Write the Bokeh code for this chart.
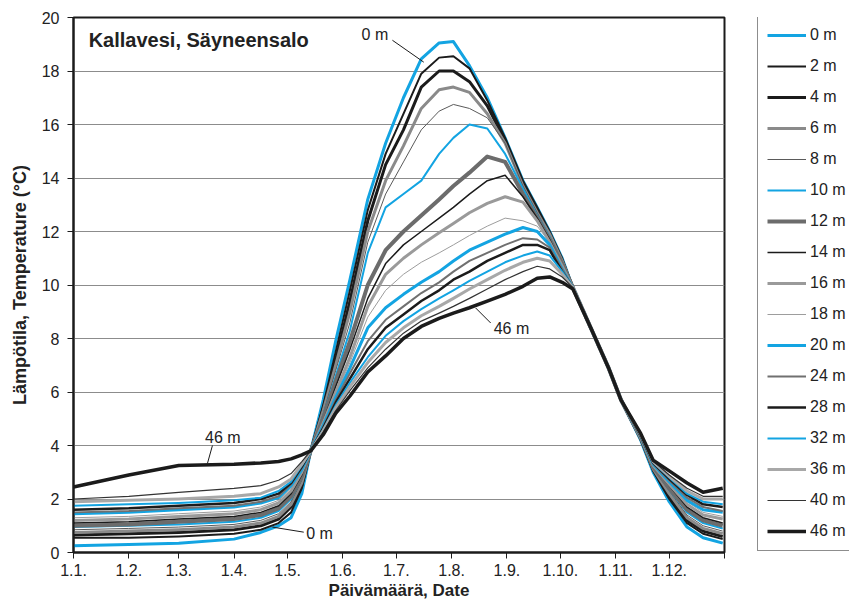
from bokeh.plotting import figure
from bokeh.layouts import row
from bokeh.models import FixedTicker, Legend, LegendItem, Label, Range1d
from bokeh.embed import file_html
from bokeh.resources import INLINE

# ---------------- data ----------------
DAYS = [0, 31, 59, 90, 105, 115, 122, 128, 133,
        140, 147, 155, 165, 175, 185, 195, 205, 213, 222, 232, 242, 252, 260, 267, 274, 280,
        290, 300, 307, 318, 325, 334, 344, 353, 364]

T0  = [0.25,0.3,0.35,0.5,0.75,1.0,1.3,2.2,3.8, 5.7,7.9,10.2,13.2,15.3,17.0,18.45,19.05,19.1,18.2,17.0,15.5,13.9,12.9,12.0,11.0,9.9, 8.4,6.9,5.7,4.2,3.0,1.9,0.95,0.55,0.35]
T2  = [0.55,0.55,0.6,0.7,0.85,1.1,1.5,2.4,3.8, 5.5,7.5,9.8,12.8,14.9,16.4,17.9,18.5,18.55,18.1,16.9,15.5,13.9,12.9,12.0,11.0,9.9, 8.4,6.9,5.7,4.25,3.05,2.0,1.1,0.7,0.5]
T4  = [0.65,0.7,0.75,0.85,1.0,1.25,1.7,2.5,3.8, 5.4,7.2,9.4,12.4,14.5,15.8,17.4,18.0,18.0,17.6,16.7,15.4,13.8,12.8,11.9,10.9,9.9, 8.4,6.9,5.7,4.25,3.1,2.1,1.2,0.8,0.6]
T6  = [0.75,0.8,0.85,0.95,1.1,1.35,1.8,2.6,3.8, 5.3,7.0,9.0,12.0,13.9,15.2,16.6,17.3,17.4,17.2,16.4,15.3,13.7,12.7,11.9,10.9,9.9, 8.4,6.9,5.7,4.3,3.12,2.2,1.3,0.9,0.7]
T8  = [0.85,0.9,0.95,1.05,1.2,1.45,1.9,2.7,3.8, 5.2,6.8,8.6,11.6,13.4,14.6,15.8,16.5,16.75,16.6,16.25,15.3,13.7,12.7,11.8,10.8,9.9, 8.4,6.9,5.7,4.3,3.15,2.3,1.4,1.0,0.8]
T10 = [0.95,1.0,1.05,1.15,1.3,1.55,2.0,2.8,3.8, 5.1,6.6,8.3,11.2,12.9,13.4,13.9,14.9,15.5,16.0,15.85,14.9,13.6,12.6,11.8,10.8,9.9, 8.4,6.9,5.7,4.3,3.18,2.35,1.5,1.1,0.9]
T12 = [1.0,1.05,1.15,1.25,1.4,1.65,2.1,2.85,3.8, 5.0,6.4,7.9,10.0,11.3,12.0,12.6,13.2,13.7,14.2,14.8,14.6,13.4,12.5,11.7,10.8,9.9, 8.4,6.9,5.7,4.3,3.2,2.4,1.6,1.2,1.0]
T14 = [1.1,1.15,1.25,1.35,1.5,1.75,2.2,2.9,3.8, 4.9,6.2,7.6,9.5,10.8,11.5,12.0,12.5,12.9,13.4,13.9,14.1,13.3,12.5,11.7,10.7,9.9, 8.4,6.9,5.7,4.3,3.22,2.5,1.7,1.3,1.1]
T16 = [1.2,1.25,1.35,1.45,1.6,1.85,2.3,3.0,3.8, 4.85,6.0,7.3,9.2,10.4,11.0,11.5,11.95,12.3,12.7,13.05,13.3,13.1,12.4,11.6,10.7,9.9, 8.4,6.9,5.7,4.3,3.25,2.55,1.8,1.4,1.25]
T18 = [1.3,1.35,1.45,1.55,1.7,1.95,2.4,3.05,3.8, 4.8,5.9,7.1,8.8,9.8,10.4,10.85,11.2,11.5,11.85,12.2,12.5,12.4,12.2,11.6,10.7,9.9, 8.4,6.9,5.7,4.35,3.27,2.6,1.9,1.5,1.35]
T20 = [1.45,1.5,1.6,1.7,1.85,2.05,2.5,3.1,3.8, 4.75,5.8,6.9,8.4,9.15,9.65,10.1,10.5,10.9,11.3,11.6,11.9,12.15,12.0,11.5,10.6,9.9, 8.4,6.9,5.7,4.35,3.3,2.65,1.95,1.6,1.5]
T24 = [1.5,1.55,1.65,1.75,1.9,2.1,2.55,3.15,3.8, 4.7,5.7,6.7,7.9,8.7,9.2,9.7,10.1,10.5,10.9,11.2,11.5,11.75,11.7,11.4,10.6,9.9, 8.4,6.9,5.7,4.35,3.32,2.7,2.05,1.7,1.55]
T28 = [1.6,1.65,1.75,1.85,2.0,2.2,2.6,3.2,3.8, 4.65,5.6,6.5,7.6,8.4,8.9,9.4,9.8,10.2,10.5,10.9,11.2,11.5,11.5,11.3,10.5,9.9, 8.4,6.9,5.7,4.35,3.35,2.75,2.15,1.8,1.7]
T32 = [1.75,1.8,1.85,1.95,2.05,2.3,2.65,3.25,3.8, 4.6,5.5,6.35,7.3,8.1,8.65,9.1,9.5,9.8,10.15,10.5,10.85,11.1,11.25,11.1,10.5,9.9, 8.4,6.9,5.7,4.4,3.37,2.8,2.2,1.9,1.8]
T36 = [1.9,1.95,2.0,2.1,2.2,2.45,2.75,3.3,3.8, 4.55,5.4,6.2,7.1,7.85,8.4,8.85,9.2,9.5,9.85,10.2,10.55,10.85,11.0,10.9,10.4,9.9, 8.4,6.9,5.7,4.4,3.4,2.85,2.3,2.0,2.0]
T40 = [2.0,2.1,2.25,2.4,2.5,2.7,2.95,3.4,3.8, 4.5,5.3,6.05,6.9,7.6,8.2,8.65,8.95,9.2,9.5,9.85,10.2,10.5,10.7,10.6,10.3,9.9, 8.4,6.9,5.7,4.4,3.42,2.9,2.4,2.1,2.1]
T46 = [2.45,2.9,3.25,3.3,3.35,3.4,3.5,3.65,3.8, 4.4,5.2,5.85,6.75,7.35,8.0,8.45,8.75,8.95,9.15,9.4,9.65,9.95,10.25,10.3,10.1,9.85, 8.4,6.9,5.7,4.45,3.45,3.05,2.6,2.25,2.4]

DEPTH_LABELS = ["0 m", "2 m", "4 m", "6 m", "8 m", "10 m", "12 m", "14 m", "16 m",
                "18 m", "20 m", "24 m", "28 m", "32 m", "36 m", "40 m", "46 m"]
SERIES = [T0, T2, T4, T6, T8, T10, T12, T14, T16, T18, T20, T24, T28, T32, T36, T40, T46]

MONTH_START_DAYS = [0, 31, 59, 90, 120, 151, 181, 212, 243, 273, 304, 334]
MONTH_LABELS = ["1.1.", "1.2.", "1.3.", "1.4.", "1.5.", "1.6.", "1.7.", "1.8.",
                "1.9.", "1.10.", "1.11.", "1.12."]
Y_TICKS = [0, 2, 4, 6, 8, 10, 12, 14, 16, 18, 20]

# ---------------- styles ----------------
BLUE = "#13a4e2"
BLACK = "#1b1b1b"
STYLES = [
    (BLUE, 3.0), (BLACK, 2.0), (BLACK, 3.0), ("#8a8a8a", 3.0), ("#5a5a5a", 1.0),
    (BLUE, 2.0), ("#6c6c6c", 4.0), (BLACK, 1.5), ("#9a9a9a", 3.0), ("#9d9d9d", 1.0),
    (BLUE, 3.0), ("#707070", 2.0), (BLACK, 2.5), (BLUE, 2.0), ("#a8a8a8", 3.0),
    ("#333333", 1.2), (BLACK, 3.5),
]
FONT = "Liberation Sans"

p = figure(width=740, height=604, output_backend="svg", toolbar_location=None,
           x_range=Range1d(0, 365), y_range=Range1d(0, 20),
           min_border_left=73, min_border_right=16, min_border_top=17, min_border_bottom=52)
p.background_fill_color = "white"
p.border_fill_color = "white"
p.outline_line_color = BLACK
p.outline_line_width = 2

# grid
p.xgrid.grid_line_color = None
p.ygrid.ticker = FixedTicker(ticks=Y_TICKS)
p.ygrid.grid_line_color = "#8c8c8c"
p.ygrid.grid_line_width = 1

# axes
p.xaxis.ticker = FixedTicker(ticks=MONTH_START_DAYS + [365])
p.xaxis.major_label_overrides = {d: lab for d, lab in zip(MONTH_START_DAYS, MONTH_LABELS)} | {365: ""}
p.yaxis.ticker = FixedTicker(ticks=Y_TICKS)
for ax in (p.xaxis[0], p.yaxis[0]):
    ax.axis_line_color = BLACK
    ax.axis_line_width = 2
    ax.major_tick_line_color = BLACK
    ax.major_tick_line_width = 1
    ax.major_tick_out = 6
    ax.major_tick_in = 0
    ax.minor_tick_line_color = None
    ax.major_label_text_font = FONT
    ax.major_label_text_font_size = "16px"
    ax.major_label_text_color = "#222222"
    ax.axis_label_text_font = FONT
    ax.axis_label_text_font_style = "bold"
    ax.axis_label_text_color = "#222222"
p.xaxis.axis_label = "Päivämäärä, Date"
p.yaxis.axis_label = "Lämpötila, Temperature (°C)"
p.xaxis.axis_label_text_font_size = "17px"
p.yaxis.axis_label_text_font_size = "18px"
p.xaxis.major_label_standoff = 5
p.xaxis.axis_label_standoff = 2
p.yaxis.major_label_standoff = 8
p.yaxis.axis_label_standoff = 9

# lines
for ys, (col, w) in zip(SERIES, STYLES):
    p.line(DAYS, ys, line_color=col, line_width=w, line_join="round")

# title inside plot
p.add_layout(Label(x=8.5, y=19.15, text="Kallavesi, Säyneensalo", text_font=FONT,
                   text_font_style="bold", text_font_size="20px", text_color="#222222",
                   text_baseline="middle"))

# annotations
def note(x, y, text, align="center"):
    p.add_layout(Label(x=x, y=y, text=text, text_font=FONT, text_font_size="16px",
                       text_color="#222222", text_align=align, text_baseline="middle"))

note(169, 19.36, "0 m")
p.segment(x0=[178.8], y0=[19.15], x1=[196.4], y1=[18.33], line_color=BLACK, line_width=1)
note(130.5, 0.71, "0 m", align="left")
p.segment(x0=[129.1], y0=[0.76], x1=[111.5], y1=[0.95], line_color=BLACK, line_width=1)
note(83.7, 4.31, "46 m")
p.segment(x0=[77.9], y0=[4.0], x1=[75.1], y1=[3.33], line_color=BLACK, line_width=1)
note(235.6, 8.39, "46 m", align="left")
p.segment(x0=[233.9], y0=[8.58], x1=[225.5], y1=[9.14], line_color=BLACK, line_width=1)

# ---------------- legend panel ----------------
lp = figure(width=109, height=604, output_backend="svg", toolbar_location=None,
            x_range=Range1d(0, 1), y_range=Range1d(0, 1),
            x_axis_location=None, y_axis_location=None,
            min_border_left=0, min_border_right=0, min_border_top=0, min_border_bottom=0)
lp.outline_line_color = None
lp.grid.grid_line_color = None
lp.background_fill_color = "white"
lp.border_fill_color = "white"

items = []
for lab, (col, w) in zip(DEPTH_LABELS, STYLES):
    # legend proxy placed outside the visible range of this panel
    r = lp.line(x=[-5, -4], y=[-5, -4], line_color=col, line_width=w)
    items.append(LegendItem(label=lab, renderers=[r]))

legend = Legend(items=items, location=(17, 1), margin=0, padding=9,
                spacing=11, glyph_width=39, glyph_height=20, label_height=20,
                label_standoff=4, label_text_font=FONT, label_text_font_size="16px",
                label_text_color="#222222", border_line_color=BLACK, border_line_width=1,
                background_fill_color="white")
lp.add_layout(legend)

layout = row(p, lp, spacing=0)
open("out.html", "w").write(file_html(layout, INLINE))
